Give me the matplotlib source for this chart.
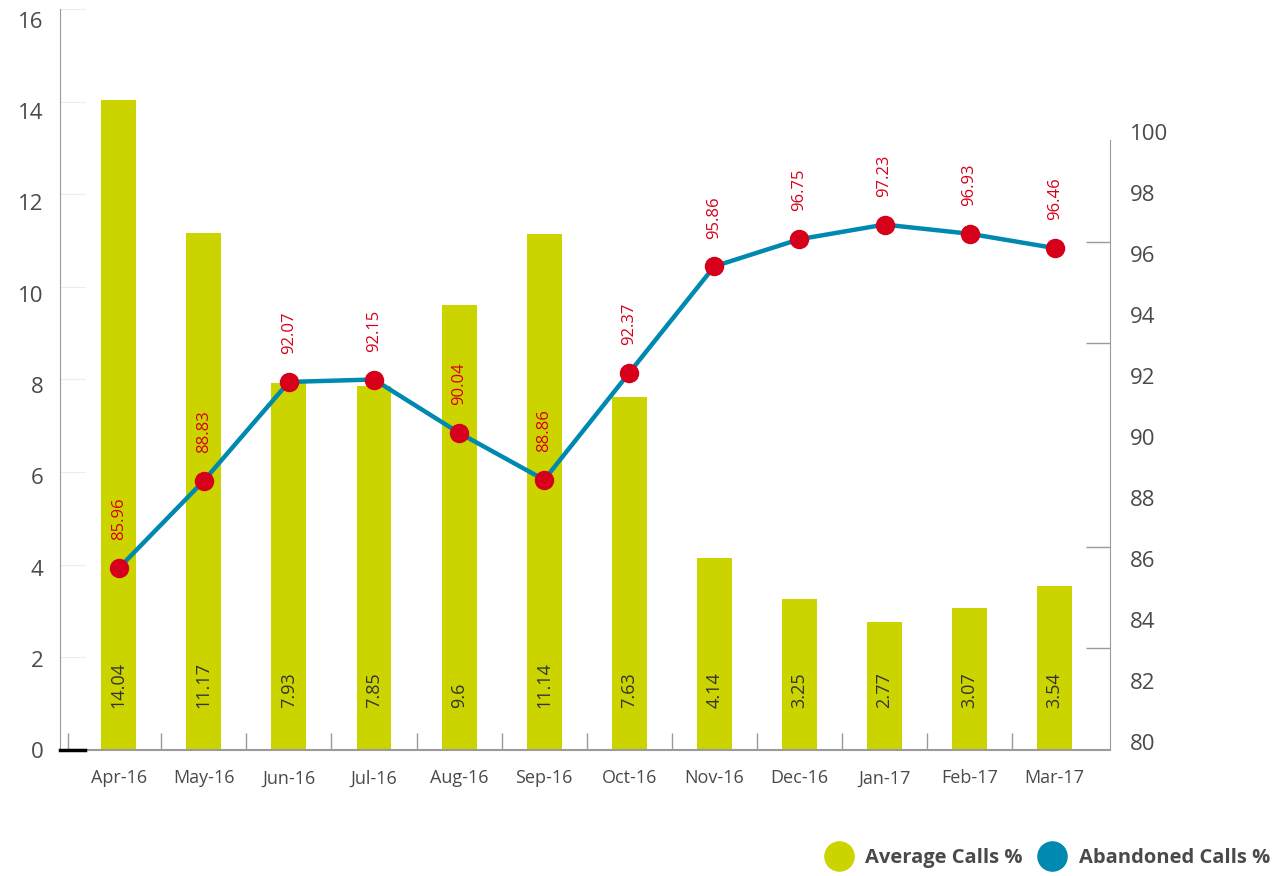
import numpy as np
import matplotlib
matplotlib.use('Agg')
from matplotlib import pyplot as plt
from matplotlib.lines import Line2D
from matplotlib.transforms import ScaledTranslation

plt.rcParams['font.family'] = ['Open Sans', 'DejaVu Sans']

# data ....................................................................
months = ['Apr-16', 'May-16', 'Jun-16', 'Jul-16', 'Aug-16', 'Sep-16',
          'Oct-16', 'Nov-16', 'Dec-16', 'Jan-17', 'Feb-17', 'Mar-17']
average_calls = [14.04, 11.17, 7.93, 7.85, 9.6, 11.14, 7.63, 4.14, 3.25, 2.77, 3.07, 3.54]
# point heights as drawn in the picture (Aug-16 sits at ~90.4 although labelled 90.04)
abandoned_calls = [85.96, 88.83, 92.07, 92.15, 90.4, 88.86, 92.37, 95.86, 96.75, 97.23, 96.93, 96.46]
abandoned_labels = ['85.96', '88.83', '92.07', '92.15', '90.04', '88.86',
                    '92.37', '95.86', '96.75', '97.23', '96.93', '96.46']
left_ticks = [0, 2, 4, 6, 8, 10, 12, 14, 16]
right_ticks = [80, 82, 84, 86, 88, 90, 92, 94, 96, 98, 100]

bar_col = '#CCD400'
line_col = '#0089B0'
red = '#D7001B'
txt = '#4a4a4a'
spine_col = '#9a9a9a'

W, H = 1279, 876
fig = plt.figure(figsize=(W / 100, H / 100), dpi=100)
ax = fig.add_axes([60 / W, 126 / H, 1050 / W, 741 / H])

x = np.arange(len(months))

# BARS ....................................................................
ax.bar(x, average_calls, width=0.41, color=bar_col, zorder=2)
for xi, v in zip(x, average_calls):
    ax.text(xi, 0.9, str(v), rotation=90, ha='center', va='bottom',
            fontsize=13, color='#333333', zorder=3)

ax.set_xlim(-0.69, 11.65)
ax.set_ylim(0, 16)
ax.set_yticks(left_ticks)
ax.set_xticks(x)
ax.set_xticklabels(months)
ax.set_xticks([-0.6] + [i + 0.5 for i in range(11)], minor=True)
ax.tick_params(axis='x', which='major', length=0, pad=14, labelsize=13, labelcolor=txt)
ax.tick_params(axis='x', which='minor', direction='in', length=12, color=spine_col, width=1)
ax.tick_params(axis='y', which='major', direction='in', length=18, color='#ececec',
               pad=12, labelsize=16, labelcolor=txt)

for s in ['top', 'right']:
    ax.spines[s].set_visible(False)
ax.spines['left'].set_color(spine_col)
ax.spines['bottom'].set_color(spine_col)
ax.spines['bottom'].set_linewidth(1.5)
ax.plot([-0.69, -0.40], [0, 0], color='black', lw=2.5, clip_on=False, zorder=5)

# LINE ....................................................................
ax2 = ax.twinx()
ax2.plot(x, abandoned_calls, color=line_col, lw=3.2, zorder=3)
ax2.plot(x, abandoned_calls, 'o', color=red, ms=13, zorder=4)
for xi, v, lab in zip(x, abandoned_calls, abandoned_labels):
    ax2.annotate(lab, (xi, v), xytext=(0, 20), textcoords='offset points',
                 rotation=90, ha='center', va='bottom', fontsize=12, color=red)

ax2.set_ylim(80, 104.3)
ax2.set_yticks(right_ticks)
ax2.set_yticks(np.linspace(80, 100, 7), minor=True)
ax2.tick_params(axis='y', which='major', length=0, pad=14, labelsize=16, labelcolor=txt)
ax2.tick_params(axis='y', which='minor', direction='in', length=17, color=spine_col, width=1)
for s in ['top', 'left', 'bottom']:
    ax2.spines[s].set_visible(False)
ax2.spines['right'].set_color(spine_col)
ax2.spines['right'].set_bounds(80, 100)

# nudge tick labels like the original
for lab in ax2.get_yticklabels():
    lab.set_transform(lab.get_transform() + ScaledTranslation(0, 8 / 100, fig.dpi_scale_trans))
for lab, v in zip(ax.get_yticklabels(), left_ticks):
    lab.set_transform(lab.get_transform() + ScaledTranslation(0, -v / 16 * 11 / 100, fig.dpi_scale_trans))

# LEGEND ..................................................................
handles = [Line2D([], [], marker='o', ls='', ms=21, color=bar_col),
           Line2D([], [], marker='o', ls='', ms=21, color=line_col)]
leg = fig.legend(handles, ['Average Calls %', 'Abandoned Calls %'], ncol=2,
                 loc='center right', bbox_to_anchor=(1288 / W, 1 - 858 / H),
                 frameon=False, handletextpad=0.3, columnspacing=0.5,
                 prop={'size': 14.5, 'weight': 'bold'})
for t in leg.get_texts():
    t.set_color(txt)

fig.savefig('out.png', dpi=100)
